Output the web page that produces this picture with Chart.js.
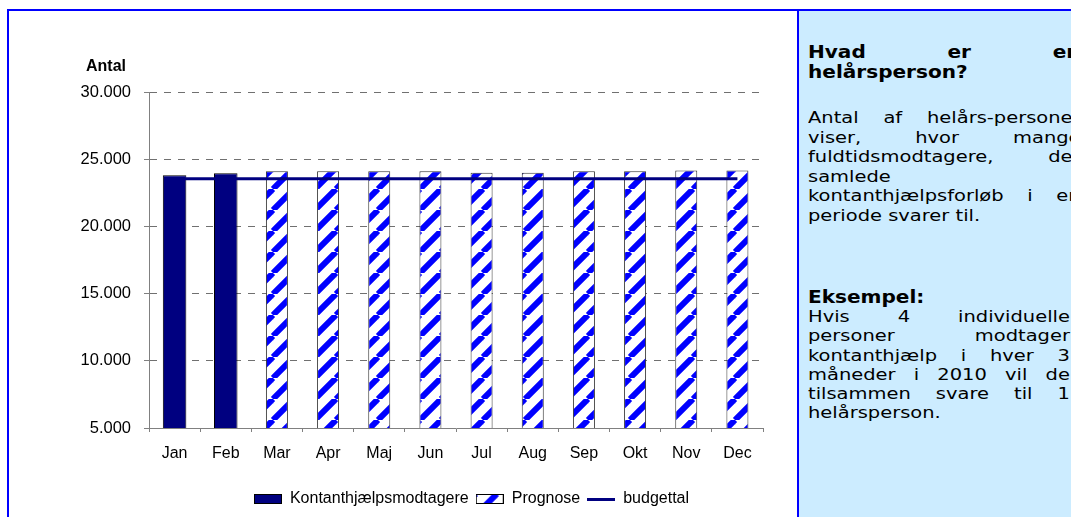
<!DOCTYPE html>
<html lang="da">
<head>
<meta charset="UTF-8">
<title>Helårspersoner på kontanthjælp</title>
<script src="https://cdn.jsdelivr.net/npm/chart.js@4.4.0/dist/chart.umd.min.js"></script>
<style>
  html,body{margin:0;padding:0;background:#fff}
  body{width:1071px;height:517px;overflow:hidden;position:relative}
  #chartWrap{position:absolute;left:0;top:0;width:943px;height:517px;z-index:1}
  #frameL{position:absolute;left:7px;top:9px;width:2px;height:520px;background:#0000ff;z-index:2}
  #frameT{position:absolute;left:7px;top:9px;width:1070px;height:2px;background:#0000ff;z-index:2}
  #panel{position:absolute;left:797px;top:9px;width:280px;height:520px;background:#ccecff;
    border-left:2px solid #0000ff;border-top:2px solid #0000ff;z-index:3}
  /* the text in the box is wider than it is tall, so it is stretched a little */
  .blk{position:absolute;left:808px;font-family:"DejaVu Sans",Verdana,sans-serif;color:#000;z-index:4;
    white-space:nowrap;transform-origin:0 0;transform:scaleX(1.18)}
  .blk div{text-align:left}
  .blk .j{text-align:justify;text-align-last:justify}
  .b{font-weight:bold}
</style>
</head>
<body>
<div id="chartWrap"><canvas id="c" width="943" height="517"></canvas></div>
<div id="frameL"></div><div id="frameT"></div>
<div id="panel"></div>

<div class="blk b" style="top:42px;width:231px;font-size:17px;line-height:20px">
  <div class="j">Hvad er en</div>
  <div>helårsperson?</div>
</div>
<div class="blk" style="top:108px;width:231px;font-size:16.5px;line-height:19.5px">
  <div class="j">Antal af helårs-personer</div>
  <div class="j">viser, hvor mange</div>
  <div class="j">fuldtidsmodtagere, der</div>
  <div>samlede</div>
  <div class="j">kontanthjælpsforløb i en</div>
  <div>periode svarer til.</div>
</div>
<div class="blk" style="top:288px;width:222px;font-size:16.5px;line-height:19.2px">
  <div class="b" style="font-size:17px">Eksempel:</div>
  <div class="j">Hvis 4 individuelle</div>
  <div class="j">personer modtager</div>
  <div class="j">kontanthjælp i hver 3</div>
  <div class="j">måneder i 2010 vil de</div>
  <div class="j">tilsammen svare til 1</div>
  <div>helårsperson.</div>
</div>

<script>
// data
const months=['Jan','Feb','Mar','Apr','Maj','Jun','Jul','Aug','Sep','Okt','Nov','Dec'];
const actual=[23800,23950,null,null,null,null,null,null,null,null,null,null];
const forecast=[null,null,24100,24100,24100,24100,24000,24000,24100,24100,24150,24150];
const budget=[23550,23550,23550,23550,23550,23550,23550,23550,23550,23550,23550,23550];
const yTicks=[5000,10000,15000,20000,25000,30000];
const yTitle='Antal';

const NAVY='#000080', BLUE='#0000ff';
Chart.defaults.font.family='"Liberation Sans", Arial, sans-serif';
Chart.defaults.color='#000';

/* hatch tile: blue "/" stripes on white */
function hatchTile(){
  const s=21,c=document.createElement('canvas');c.width=c.height=s;
  const g=c.getContext('2d');
  g.fillStyle='#fff';g.fillRect(0,0,s,s);
  g.strokeStyle=BLUE;g.lineWidth=6;
  for(const k of [-1,0,1]){g.beginPath();g.moveTo(k*s,s);g.lineTo(k*s+s,0);g.stroke();}
  return c;
}
const tile=hatchTile();
const hatch=document.getElementById('c').getContext('2d').createPattern(tile,'repeat');

/* small legend images */
function boxImg(fill){
  const c=document.createElement('canvas');c.width=28;c.height=10;
  const g=c.getContext('2d');
  g.fillStyle=fill||g.createPattern(tile,'repeat');
  g.fillRect(0,0,28,10);
  g.strokeStyle='#000';g.lineWidth=1;g.strokeRect(0.5,0.5,27,9);
  return c;
}
function lineImg(){
  const c=document.createElement('canvas');c.width=28;c.height=3;
  const g=c.getContext('2d');g.fillStyle=NAVY;g.fillRect(0,0,28,3);return c;
}

const fmt=v=>String(v).replace(/\B(?=(\d{3})+(?!\d))/g,'.');

const axisTitle={id:'axisTitle',afterDraw(c){
  const a=c.chartArea,ctx=c.ctx;ctx.save();
  ctx.font='bold 16px "Liberation Sans", Arial';ctx.fillStyle='#000';
  ctx.textAlign='left';ctx.textBaseline='middle';
  ctx.fillText(yTitle,a.left-63,a.top-25);ctx.restore();
}};

new Chart(document.getElementById('c'),{
  type:'bar',
  data:{labels:months,datasets:[
    {label:'Kontanthjælpsmodtagere',data:actual,backgroundColor:NAVY,borderColor:'#000',borderWidth:1,
     grouped:false,barPercentage:0.46,categoryPercentage:1,order:1,pointStyle:boxImg(NAVY)},
    {label:'Prognose',data:forecast,backgroundColor:hatch,borderColor:'#333',borderWidth:1,
     grouped:false,barPercentage:0.43,categoryPercentage:1,order:1,pointStyle:boxImg(null)},
    {type:'line',label:'budgettal',data:budget,borderColor:NAVY,borderWidth:3,pointRadius:0,
     pointStyle:lineImg(),order:0,fill:false}
  ]},
  options:{
    responsive:false,animation:false,
    layout:{padding:{top:92,bottom:0,left:0,right:0}},
    plugins:{
      tooltip:{enabled:false},
      legend:{position:'bottom',labels:{usePointStyle:true,pointStyleWidth:28,padding:7,
        font:{size:16},color:'#000',sort:(a,b)=>a.datasetIndex-b.datasetIndex}}
    },
    scales:{
      x:{ticks:{font:{size:16},color:'#000',padding:12},
        grid:{drawOnChartArea:false,offset:true,tickLength:4,color:'#808080'},
        border:{color:'#808080',width:1},
        afterFit:s=>{s.height=56;}},
      y:{min:5000,max:30000,
        afterBuildTicks:s=>{s.ticks=yTicks.map(v=>({value:v}));},
        ticks:{font:{size:16.5},color:'#000',padding:13,callback:v=>fmt(v)},
        grid:{color:ctx=>ctx.tick&&ctx.tick.value===5000?'rgba(0,0,0,0)':'#707070',
          tickColor:'#808080',tickLength:5,tickBorderDash:[]},
        border:{color:'#808080',width:1,dash:[7,7]},
        afterFit:s=>{s.width=149;}},
      y2:{position:'right',grid:{display:false},ticks:{display:false},border:{display:false},
        afterFit:s=>{s.width=180;}}
    }
  },
  plugins:[axisTitle]
});
</script>
</body>
</html>
